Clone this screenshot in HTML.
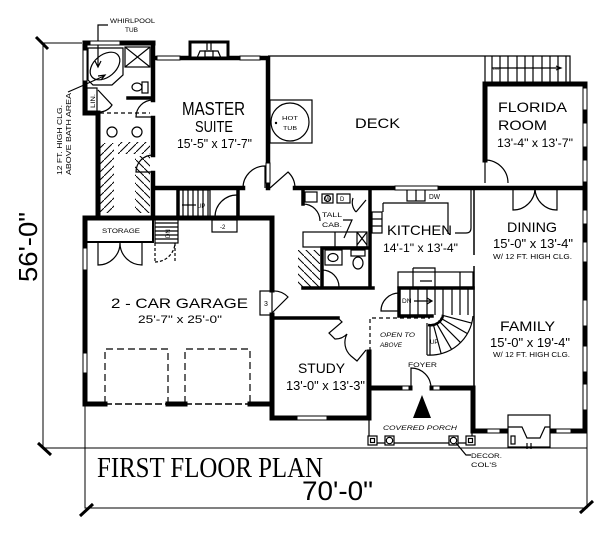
<!DOCTYPE html>
<html><head><meta charset="utf-8"><style>
html,body{margin:0;padding:0;background:#fff;}
svg{display:block;}
text{font-family:"Liberation Sans",sans-serif;fill:#000;}
.s{font-family:"Liberation Serif",serif;}
</style></head><body>
<svg width="600" height="536" viewBox="0 0 600 536" xmlns="http://www.w3.org/2000/svg">
<defs>
<pattern id="h" width="8" height="8" patternUnits="userSpaceOnUse"><path d="M-1,9 L9,-1" stroke="#000" stroke-width="1"/></pattern>
<pattern id="h2" width="8" height="8" patternUnits="userSpaceOnUse"><path d="M-1,-1 L9,9" stroke="#000" stroke-width="1"/></pattern>
</defs>
<rect width="600" height="536" fill="#fff"/>

<!-- dimension lines -->
<g fill="none" stroke="#000" stroke-width="1">
<path d="M43,43 V448 H587 M43,43 H82 M85,406 V508 H587 V431"/>
</g>
<g fill="none" stroke="#000" stroke-width="3">
<path d="M36,37 L48,49 M38,443 L51,455 M80,516 L93,504 M580,513 L593,501"/>
</g>

<!-- deck / florida stairs thin -->
<g fill="none" stroke="#000" stroke-width="1.2">
<path d="M268,56 H570 V84 M485,56 V84"/>
<path d="M492,56 V83 M500,56 V83 M508,56 V83 M517,56 V83 M525,56 V83 M533,56 V83 M542,56 V83 M550,56 V83 M558,56 V83 M566,56 V83"/>
<path d="M492,68 H560"/>
<path d="M556,66 L561,68 L556,70"/>
<rect x="270" y="100" width="42" height="43"/>
<circle cx="290" cy="122" r="19"/>
</g>
<circle cx="276" cy="123" r="1.2" fill="#000"/>

<!-- closet hatch -->
<rect x="100" y="143" width="14" height="70" fill="url(#h)"/>
<rect x="135" y="156" width="15" height="57" fill="url(#h2)"/>
<rect x="118" y="142" width="32" height="12" fill="url(#h)"/>
<rect x="298" y="250" width="22" height="37" fill="url(#h2)"/>

<!-- main walls -->
<g fill="none" stroke="#000" stroke-linecap="square">
<path stroke-width="5" d="M85,43 H153 M85,43 V113 H98 V218 M85,218 H272 V290 M85,218 V404 H105 M168,404 H185 M250,404 H272 V418 H369 V352 M272,315 V404"/>
<path stroke-width="5" d="M369,388 H410 M432,388 H473 V431 H585 V84 H485 V160"/>
<path stroke-width="4.5" d="M153,58 H268 V188 M153,43 V100 M153,118 V155 M153,173 V218 M153,188 H243 M295,188 H585"/>
<path stroke-width="3.5" d="M303,188 V204 M370,188 V288 M303,288 H373 M322,248 V288 M322,248 H370 M399,288 H473 M399,288 V316 H432 M272,318 H338 M238,188 V218 M178,188 V218 M128,98 H152"/>
</g>

<!-- thin details -->
<g fill="none" stroke="#000" stroke-width="1.2">
<!-- doors -->
<path d="M243,188 A22,22 0 0 1 265,166 V188"/>
<path d="M270,188 L288,172 A22,22 0 0 1 295,188"/>
<path d="M485,160 A23,23 0 0 1 508,183 M485,160 V183"/>
<path d="M513,188 V210 A22,22 0 0 0 535,188 M557,188 V210 A22,22 0 0 1 535,188"/>
<path d="M98,90 L112,105 A15,15 0 0 1 99,112"/>
<path d="M153,100 A17,17 0 0 0 136,117 H153"/>
<path d="M153,155 A17,17 0 0 0 136,172 H153"/>
<path d="M237,195 V217 M237,195 A22,22 0 0 0 215,217"/>
<path d="M272,313 L288,297 A20,20 0 0 0 272,291"/>
<path d="M98,243 V265 A22,22 0 0 0 120,243 M142,243 V265 A22,22 0 0 1 120,243"/>
<path d="M399,293 A18,18 0 0 0 381,311 H399"/>
<path d="M322,270 A17,17 0 0 1 339,287"/>
<path d="M303,204 A17,17 0 0 1 320,221"/>
<path d="M411,388 V368 A20,20 0 0 1 431,388"/>
<path d="M338,318 L342,322 L329,333 L335,339 A16,16 0 0 0 347,334 A18,18 0 0 0 351,356 L357,361 L366,350"/>
<!-- storage -->
<path stroke-width="2" d="M85,242 H153 V218"/>
<rect x="155" y="219" width="23" height="24"/>
<path d="M155,223 H178 M155,227 H178 M155,231 H178 M155,235 H178 M155,239 H178"/>
<path stroke-dasharray="3 2" d="M155,243 V262 M175,243 V262 M155,262 A20,20 0 0 0 175,243"/>
<rect x="212" y="220" width="25" height="12"/>
<rect x="260" y="291" width="12" height="24"/>
<!-- garage doors -->
<path stroke-dasharray="7 4" d="M105,403 V349 H168 V403 M185,403 V349 H250 V403"/>
<path stroke-width="1.6" stroke-dasharray="7 3" d="M105,404 H168 M185,404 H250"/>
<!-- master stairs -->
<rect x="178" y="190" width="32" height="28"/>
<path d="M183,190 V218 M188,190 V218 M193,190 V218 M198,190 V218 M203,190 V218 M208,190 V218"/>
<path d="M182,205 H196"/>
<!-- bath -->
<path d="M88,48 H123 V75 L112,85 H93 L88,80 Z"/>
<ellipse cx="105" cy="66" rx="17" ry="11" transform="rotate(-40 105 66)"/>
<rect x="125" y="47" width="25" height="20"/>
<path d="M125,47 L150,67 M150,47 L125,67"/>
<rect x="87" y="88" width="10" height="25"/>
<rect x="142" y="82" width="6" height="11"/>
<ellipse cx="137" cy="87" rx="5" ry="4"/>
<path stroke-dasharray="4 3" d="M100,113 H150"/>
<circle cx="112" cy="132" r="5"/>
<circle cx="137" cy="132" r="5"/>
<path d="M108,25 H98 V66 M95,61 L98,67 L101,61"/>
<path d="M68,92 L84,85 L104,76 M98,76 L105,75 L101,80"/>
<!-- fireplace -->
<rect x="190" y="42" width="38" height="16" stroke-width="3" fill="#fff"/>
<path d="M197,58 L200,51 H218 L221,58"/>
<rect x="205" y="51" width="8" height="6"/>
<path d="M207,42 V50 M211,42 V50"/>
<!-- laundry / powder -->
<rect x="305" y="192" width="12" height="10"/>
<rect x="322" y="194" width="11" height="9"/>
<circle cx="327.5" cy="198.5" r="3"/>
<rect x="337" y="194" width="13" height="9"/>
<path d="M356,212 L366,200 M356,212 A14,14 0 0 1 353,198"/>
<rect x="303" y="232" width="64" height="15"/>
<path d="M335,232 V247 M357,232 V247 M357,232 L367,245 M367,232 L357,245"/>
<path d="M343,220 H352 L344,238"/>
<rect x="325" y="250" width="17" height="15"/>
<ellipse cx="333" cy="257.5" rx="5" ry="4"/>
<rect x="351" y="250" width="14" height="6"/>
<ellipse cx="358" cy="263" rx="5" ry="6"/>
<!-- kitchen -->
<path d="M383,203 H448 V234 M471,189 V228 Q471,233 466,233 H455 M383,203 V212"/>
<rect x="372" y="212" width="10" height="21"/>
<path d="M372,219 H382 M372,226 H382"/>
<rect x="407" y="188" width="18" height="13"/>
<path d="M416,188 V201"/>
<rect x="398" y="272" width="75" height="16"/>
<path d="M413,268 H435 V272 M413,268 V272 M413,272 V288 M435,272 V288 M460,272 V288 M420,281 H432"/>
<path d="M410,288 V315 M418,288 V315 M427,288 V315 M435,288 V315 M443,288 V315 M452,288 V315 M460,288 V315 M468,288 V315"/>
<path d="M414,301 H431 M427,298 L432,301 L427,304"/>
<path stroke-width="1.5" d="M474,188 V255 M474,266 V388"/>
<!-- spiral -->
<path d="M473,316 A43,43 0 0 1 427,355 M427,355 V323"/>
<path stroke-width="2.5" d="M443,316 A13,13 0 0 1 428,325"/>
<path d="M441.6,315.1 L471.5,323.1 M440.4,318 L467.2,333.5 M438.5,320.5 L460.4,342.4 M436,322.4 L451.5,349.2 M433.1,323.6 L441.1,353.5 M430,324 L430,355"/>
<path stroke-dasharray="4 3" d="M370,386 V318 H430"/>
<!-- porch -->
<path d="M369,388 V443 H472 V431"/>
<rect x="368" y="436" width="9" height="9" fill="#fff"/>
<rect x="385" y="436" width="9" height="9" fill="#fff"/>
<rect x="449" y="436" width="9" height="9" fill="#fff"/>
<rect x="466" y="436" width="9" height="9" fill="#fff"/>
<rect x="370.5" y="438.5" width="4" height="4"/>
<circle cx="389.5" cy="440.5" r="3.2"/>
<circle cx="453.5" cy="440.5" r="3.2"/>
<rect x="468.5" y="438.5" width="4" height="4"/>
<path d="M456,443 L466,455 H471"/>
<!-- bay -->
<rect x="508" y="415" width="42" height="32" fill="#fff"/>
<path d="M508,427 H522 L527,438 H540 L545,427 H550"/>
<rect x="511" y="436" width="4" height="8"/>
<path d="M527,443 V449 M531,443 V449"/>
</g>
<polygon points="413,418 431,418 422,395" fill="#000"/>

<!-- windows -->
<g fill="#fff" stroke="#000" stroke-width="1">
<rect x="90" y="41" width="30" height="4"/>
<rect x="157" y="56" width="23" height="4"/>
<rect x="240" y="56" width="20" height="4"/>
<rect x="395" y="186" width="43" height="4"/>
<rect x="297" y="416" width="30" height="4"/>
<rect x="487" y="429" width="13" height="4"/>
<rect x="556" y="429" width="15" height="4"/>
<rect x="402" y="386" width="7" height="4"/>
<rect x="433" y="386" width="7" height="4"/>
<rect x="83" y="50" width="4" height="31"/>
<rect x="266" y="163" width="4" height="20"/>
<rect x="83" y="248" width="4" height="22"/>
<rect x="83" y="353" width="4" height="20"/>
<rect x="583" y="88" width="4" height="22"/>
<rect x="583" y="123" width="4" height="24"/>
<rect x="583" y="160" width="4" height="22"/>
<rect x="583" y="210" width="4" height="14"/>
<rect x="583" y="242" width="4" height="20"/>
<rect x="583" y="300" width="4" height="26"/>
<rect x="583" y="346" width="4" height="26"/>
<rect x="583" y="384" width="4" height="26"/>
</g>

<!-- labels -->
<text x="182" y="115" font-size="18" textLength="63" lengthAdjust="spacingAndGlyphs">MASTER</text>
<text x="195" y="132" font-size="16" textLength="38" lengthAdjust="spacingAndGlyphs">SUITE</text>
<text x="177" y="148" font-size="13" textLength="75" lengthAdjust="spacingAndGlyphs">15'-5" x 17'-7"</text>
<text x="355" y="128" font-size="14" textLength="45" lengthAdjust="spacingAndGlyphs">DECK</text>
<text x="498" y="112" font-size="14" textLength="69" lengthAdjust="spacingAndGlyphs">FLORIDA</text>
<text x="498" y="130" font-size="14" textLength="49" lengthAdjust="spacingAndGlyphs">ROOM</text>
<text x="497" y="147" font-size="12" textLength="76" lengthAdjust="spacingAndGlyphs">13'-4" x 13'-7"</text>
<text x="387" y="235" font-size="14" textLength="65" lengthAdjust="spacingAndGlyphs">KITCHEN</text>
<text x="383" y="252" font-size="12" textLength="75" lengthAdjust="spacingAndGlyphs">14'-1" x 13'-4"</text>
<text x="507" y="232" font-size="14" textLength="50" lengthAdjust="spacingAndGlyphs">DINING</text>
<text x="493" y="248" font-size="13" textLength="80" lengthAdjust="spacingAndGlyphs">15'-0" x 13'-4"</text>
<text x="493" y="259" font-size="7" textLength="79" lengthAdjust="spacingAndGlyphs">W/ 12 FT. HIGH CLG.</text>
<text x="500" y="331" font-size="14" textLength="55" lengthAdjust="spacingAndGlyphs">FAMILY</text>
<text x="490" y="347" font-size="13" textLength="80" lengthAdjust="spacingAndGlyphs">15'-0" x 19'-4"</text>
<text x="493" y="357" font-size="7" textLength="77" lengthAdjust="spacingAndGlyphs">W/ 12 FT. HIGH CLG.</text>
<text x="111" y="308" font-size="14" textLength="137" lengthAdjust="spacingAndGlyphs">2 - CAR GARAGE</text>
<text x="138" y="323" font-size="11" textLength="84" lengthAdjust="spacingAndGlyphs">25'-7" x 25'-0"</text>
<text x="298" y="373" font-size="14" textLength="47" lengthAdjust="spacingAndGlyphs">STUDY</text>
<text x="286" y="390" font-size="13" textLength="79" lengthAdjust="spacingAndGlyphs">13'-0" x 13'-3"</text>
<text x="380" y="337" font-size="6.5" font-style="italic" textLength="35" lengthAdjust="spacingAndGlyphs">OPEN TO</text>
<text x="380" y="347" font-size="6.5" font-style="italic" textLength="22" lengthAdjust="spacingAndGlyphs">ABOVE</text>
<text x="408" y="367" font-size="6.5" textLength="29" lengthAdjust="spacingAndGlyphs">FOYER</text>
<text x="383" y="430" font-size="6.5" font-style="italic" textLength="74" lengthAdjust="spacingAndGlyphs">COVERED PORCH</text>
<text x="471" y="458" font-size="6.5" textLength="31" lengthAdjust="spacingAndGlyphs">DECOR.</text>
<text x="471" y="467" font-size="6.5" textLength="26" lengthAdjust="spacingAndGlyphs">COL'S</text>
<text x="102" y="233" font-size="6.5" textLength="38" lengthAdjust="spacingAndGlyphs">STORAGE</text>
<text x="110" y="23" font-size="6" textLength="45" lengthAdjust="spacingAndGlyphs">WHIRLPOOL</text>
<text x="125" y="32" font-size="6" textLength="13" lengthAdjust="spacingAndGlyphs">TUB</text>
<text x="282" y="120" font-size="5.5" textLength="16" lengthAdjust="spacingAndGlyphs">HOT</text>
<text x="283" y="130" font-size="5.5" textLength="14" lengthAdjust="spacingAndGlyphs">TUB</text>
<text x="322" y="217" font-size="6.5" textLength="20" lengthAdjust="spacingAndGlyphs">TALL</text>
<text x="322" y="227" font-size="6.5" textLength="20" lengthAdjust="spacingAndGlyphs">CAB.</text>
<text x="429" y="199" font-size="7" textLength="11" lengthAdjust="spacingAndGlyphs">DW</text>
<text x="325" y="201" font-size="6">W</text>
<text x="340" y="201" font-size="6">D</text>
<text x="402" y="303" font-size="6.5">DN</text>
<text x="430" y="344" font-size="6">UP</text>
<text x="197" y="208" font-size="6">UP</text>
<text x="493" y="70" font-size="4">DN</text>
<text x="264" y="306" font-size="7">3</text>
<text x="220" y="229" font-size="6">-2</text>
<text transform="translate(170,238) rotate(-90)" font-size="6">DN</text>
<text transform="translate(95,108) rotate(-90)" font-size="6" textLength="14" lengthAdjust="spacingAndGlyphs">LIN.</text>
<text transform="translate(62,175) rotate(-90)" font-size="7" textLength="70" lengthAdjust="spacingAndGlyphs">12 FT. HIGH CLG.</text>
<text transform="translate(71,175) rotate(-90)" font-size="7" textLength="82" lengthAdjust="spacingAndGlyphs">ABOVE BATH AREA</text>
<text transform="translate(37,282) rotate(-90)" font-size="26" textLength="70" lengthAdjust="spacingAndGlyphs">56'-0"</text>
<text class="s" x="97" y="477" font-size="28" textLength="226" lengthAdjust="spacingAndGlyphs">FIRST FLOOR PLAN</text>
<text x="302" y="500" font-size="27" textLength="71" lengthAdjust="spacingAndGlyphs">70'-0"</text>
</svg>
</body></html>
